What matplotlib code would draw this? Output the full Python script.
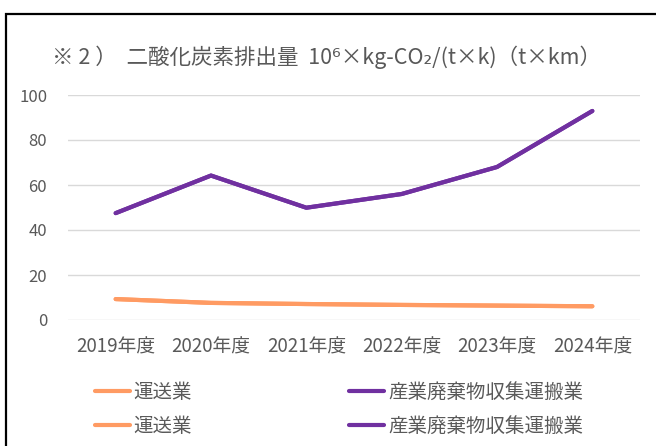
#!/usr/bin/env python

import matplotlib
matplotlib.use('Agg')
import matplotlib.pyplot as plt
from matplotlib.patches import Rectangle

plt.rcParams['font.family'] = ['Noto Sans CJK JP', 'DejaVu Sans']

YEARS = ['2019年度', '2020年度', '2021年度', '2022年度', '2023年度', '2024年度']
UNSO = [9.3, 7.6, 7.1, 6.7, 6.4, 6.1]
SANPAI = [47.5, 64.2, 49.9, 56.0, 68.0, 92.9]
LABEL_UNSO = '運送業'
LABEL_SANPAI = '産業廃棄物収集運搬業'
TITLE = '※ 2 ）  二酸化炭素排出量  10⁶×kg-CO₂/(t×k)（t×km）'

GRAY = '#595959'
ORANGE = '#FF9B63'
PURPLE = '#7030A0'


def main() -> None:
    fig = plt.figure(figsize=(6.56, 4.46), dpi=100)
    W, H = 656, 446
    ax = fig.add_axes([68 / W, 1 - 320 / H, (640 - 68) / W, (320 - 95) / H])

    # outer frame (cut off at right/bottom like the reference)
    fig.patches.append(Rectangle((6 / W, -0.1), 1.2, 1.1 - 14 / H,
                                 transform=fig.transFigure, fill=False,
                                 edgecolor='black', linewidth=1.6))

    x = range(len(YEARS))
    for k in range(2):
        ax.plot(x, UNSO, color=ORANGE, lw=3.0, solid_capstyle='round',
                solid_joinstyle='round', label=LABEL_UNSO)
        ax.plot(x, SANPAI, color=PURPLE, lw=3.0, solid_capstyle='round',
                solid_joinstyle='round', label=LABEL_SANPAI)

    ax.set_xlim(-0.5, len(YEARS) - 0.5)
    ax.set_ylim(0, 100)
    ax.set_yticks(range(0, 101, 20))
    ax.set_xticks(list(x))
    ax.set_xticklabels(YEARS)
    ax.grid(axis='y', color='#d9d9d9', lw=1.0)
    ax.set_axisbelow(True)
    for s in ax.spines.values():
        s.set_visible(False)
    ax.tick_params(length=0, colors=GRAY)
    ax.tick_params(axis='x', pad=12, labelsize=13.5)
    ax.tick_params(axis='y', pad=15, labelsize=12)

    fig.text(52 / W, 1 - 57 / H, TITLE, fontsize=15.5, color=GRAY, va='center')

    handles, labels = ax.get_legend_handles_labels()
    order = [0, 2, 1, 3]
    fig.legend([handles[i] for i in order], [labels[i] for i in order],
               loc='upper left', bbox_to_anchor=(77 / W, 1 - 364 / H),
               ncol=2, frameon=False, fontsize=14, labelcolor=GRAY,
               handlelength=1.8, handletextpad=0.2, columnspacing=8.1,
               labelspacing=0.7)

    fig.savefig('out.png', dpi=100)


if __name__ == '__main__':
    main()
